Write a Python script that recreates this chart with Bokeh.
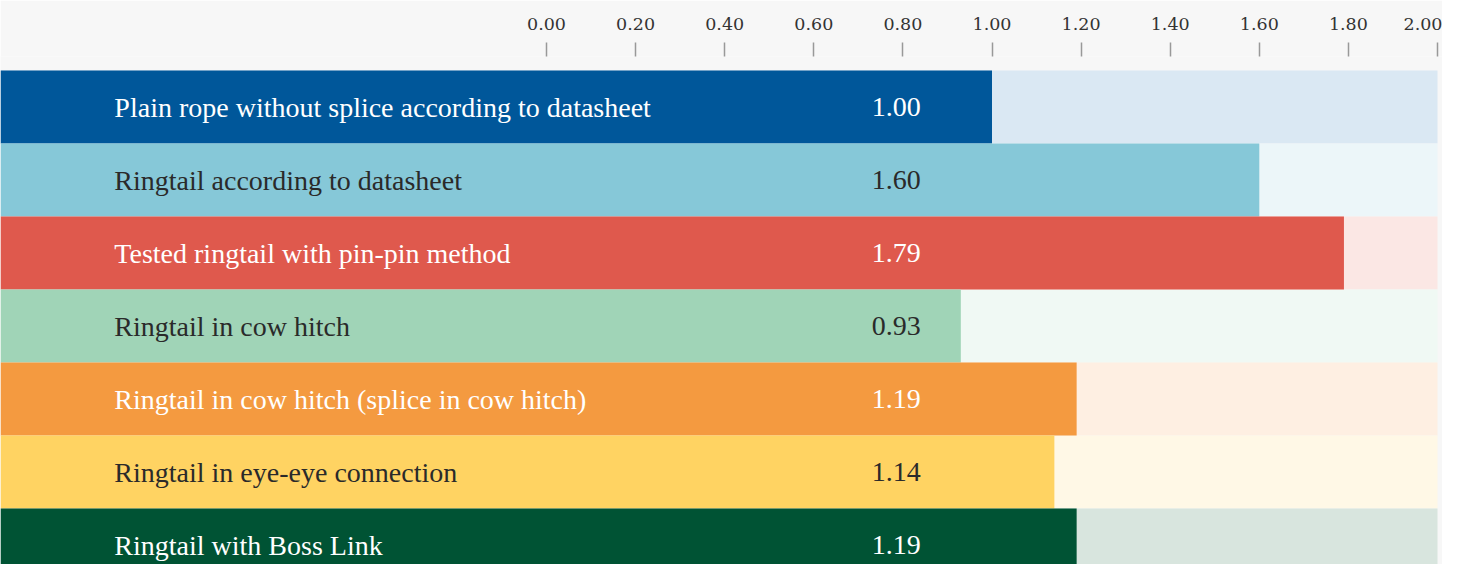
from bokeh.plotting import figure
from bokeh.models import ColumnDataSource, Range1d, FixedTicker, NumeralTickFormatter
from bokeh.core.properties import value
from bokeh.embed import file_html
from bokeh.resources import INLINE

# ---- data ----
categories = [
    "Plain rope without splice according to datasheet",
    "Ringtail according to datasheet",
    "Tested ringtail with pin-pin method",
    "Ringtail in cow hitch",
    "Ringtail in cow hitch (splice in cow hitch)",
    "Ringtail in eye-eye connection",
    "Ringtail with Boss Link",
]
values = [1.00, 1.60, 1.79, 0.93, 1.19, 1.14, 1.19]
bar_colors = ["#00579a", "#86c8d8", "#df594d", "#a0d4b7", "#f49a40", "#ffd362", "#005334"]
track_colors = ["#dae8f3", "#ecf6f9", "#fbe7e4", "#f0f9f4", "#feefe2", "#fff8e6", "#d8e5de"]
text_colors = ["#ffffff", "#2a2a2a", "#ffffff", "#2a2a2a", "#ffffff", "#2a2a2a", "#ffffff"]
tick_values = [0.0, 0.2, 0.4, 0.6, 0.8, 1.0, 1.2, 1.4, 1.6, 1.8, 2.0]
axis_max = 2.0

# ---- layout constants ----
W, H = 1442, 564
TOP = 56            # header height (axis)
ROW_PX = 73         # row height in px
PX_PER_UNIT = 445.5
ZERO_PX = 546
GAP_ROWS = 14 / ROW_PX

x_start = -ZERO_PX / PX_PER_UNIT
x_end = x_start + W / PX_PER_UNIT
y_top = -GAP_ROWS
y_bottom = y_top + (H - TOP) / ROW_PX

label_x = -0.97
value_x = 0.84

rows = list(range(len(categories)))
src = ColumnDataSource(dict(
    y=[r + 0.5 for r in rows],
    cat=categories,
    val=values,
    val_txt=["%.2f" % v for v in values],
    color=bar_colors,
    track=track_colors,
    tcolor=text_colors,
    left=[x_start] * len(rows),
    right=[axis_max] * len(rows),
    lx=[label_x] * len(rows),
    vx=[value_x] * len(rows),
))

p = figure(width=W, height=H, output_backend="svg", toolbar_location=None,
           x_range=Range1d(x_start, x_end), y_range=Range1d(y_bottom, y_top),
           x_axis_location="above", min_border_top=TOP, min_border_left=0,
           min_border_right=0, min_border_bottom=0)
p.background_fill_color = "#f7f7f7"
p.border_fill_color = "#f7f7f7"
p.outline_line_color = None
p.grid.visible = False
p.yaxis.visible = False

# tracks and bars
p.hbar(y="y", left="left", right="right", height=1.0, fill_color="track",
       line_color=None, source=src)
p.hbar(y="y", left="left", right="val", height=1.0, fill_color="color",
       line_color=None, source=src)

# labels
p.text(x="lx", y="y", text="cat", text_color="tcolor", text_baseline="middle",
       text_align="left", text_font=value("Liberation Serif"), text_font_size="28px",
       source=src)
p.text(x="vx", y="y", text="val_txt", text_color="tcolor", text_baseline="middle",
       text_align="right", text_font=value("Liberation Serif"), text_font_size="28px",
       source=src)

ax = p.xaxis[0]
ax.ticker = FixedTicker(ticks=tick_values)
ax.formatter = NumeralTickFormatter(format="0.00")
ax.axis_line_color = None
ax.major_tick_out = 14
ax.major_tick_in = 0
ax.minor_tick_out = 0
ax.minor_tick_in = 0
ax.major_tick_line_color = "#999999"
ax.major_tick_line_width = 1.5
ax.major_label_standoff = 13
ax.major_label_text_font = "DejaVu Serif"
ax.major_label_text_font_size = "17.5px"
ax.major_label_text_color = "#333333"

open("out.html", "w").write(file_html(p, INLINE))
